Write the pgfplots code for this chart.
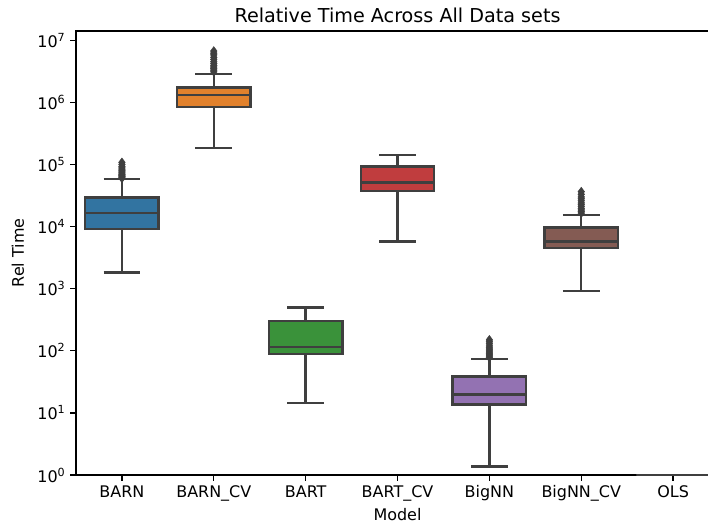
\documentclass[border=0pt]{standalone}
\usepackage{fontspec}
\setmainfont{DejaVu Sans}
\usepackage{pgfplots}
\pgfplotsset{compat=1.18}
\definecolor{cblue}{HTML}{3274A1}
\definecolor{corange}{HTML}{E1812C}
\definecolor{cgreen}{HTML}{3A923A}
\definecolor{cred}{HTML}{C03D3E}
\definecolor{cpurple}{HTML}{9372B2}
\definecolor{cbrown}{HTML}{845B53}
\definecolor{cpink}{HTML}{D684BD}
\definecolor{lc}{HTML}{3F3F3F}
\pgfplotsset{
  wh/.style={draw=lc, line width=1.75pt, solid, no marks, forget plot},
  bxs/.style={draw=lc, fill=#1, line width=1.75pt, solid, no marks, line join=miter, forget plot},
  out/.style={only marks, mark=diamond*, mark size=3.2pt,
    mark options={solid, fill=lc, draw=lc, line width=0.3pt}, forget plot},
}
\begin{document}
\begin{tikzpicture}
\begin{axis}[
  at={(0,0)}, anchor=south west,
  scale only axis, width=463pt, height=319.7pt,
  ymode=log, log basis y=10, ymin=1, ymax=1.41e7,
  ytick={1,10,100,1000,10000,100000,1000000,10000000},
  yticklabels={10\textsuperscript{0},10\textsuperscript{1},10\textsuperscript{2},10\textsuperscript{3},10\textsuperscript{4},10\textsuperscript{5},10\textsuperscript{6},10\textsuperscript{7}},
  xmin=-0.5, xmax=6.5,
  xtick={0,...,6},
  xticklabels={BARN,BARN\_CV,BART,BART\_CV,BigNN,BigNN\_CV,OLS},
  tick align=outside, tick pos=left,
  major tick length=4pt, minor tick length=2.3pt,
  every tick/.style={black, line width=0.9pt},
  axis line style={line width=0.9pt},
  title={Relative Time Across All Data sets},
  every axis title/.style={at={(axis description cs:0.5,1)}, anchor=center, yshift=11.5pt, font=\fontsize{13.8}{16}\selectfont},
  xlabel={Model}, ylabel={Rel Time},
  every axis x label/.style={at={(axis description cs:0.5,0)}, anchor=center, yshift=-28.8pt},
  every axis y label/.style={at={(axis description cs:0,0.5)}, anchor=center, xshift=-41.8pt, rotate=90},
  tick label style={font=\fontsize{11.5}{13}\selectfont},
  label style={font=\fontsize{11.5}{13}\selectfont},
  clip=false,
]
% ---- BARN (0)
\addplot[wh] coordinates {(0,1810) (0,9050)};
\addplot[wh] coordinates {(0,29200) (0,57800)};
\addplot[wh] coordinates {(-0.2,1810) (0.2,1810)};
\addplot[wh] coordinates {(-0.2,57800) (0.2,57800)};
\addplot[bxs=cblue] coordinates {(-0.4,9050) (0.4,9050) (0.4,29200) (-0.4,29200)} -- cycle;
\addplot[wh] coordinates {(-0.4,16700) (0.4,16700)};
\addplot[out] coordinates {(0,60000) (0,62000) (0,64000) (0,66000) (0,68000) (0,70000) (0,73000) (0,76000) (0,80000) (0,84000) (0,88000) (0,93000) (0,100000) (0,108000)};
% ---- BARN_CV (1)
\addplot[wh] coordinates {(1,184000) (1,834000)};
\addplot[wh] coordinates {(1,1725000) (1,2870000)};
\addplot[wh] coordinates {(0.8,184000) (1.2,184000)};
\addplot[wh] coordinates {(0.8,2870000) (1.2,2870000)};
\addplot[bxs=corange] coordinates {(0.6,834000) (1.4,834000) (1.4,1725000) (0.6,1725000)} -- cycle;
\addplot[wh] coordinates {(0.6,1300000) (1.4,1300000)};
\addplot[out] coordinates {(1,3100000) (1,3300000) (1,3500000) (1,3700000) (1,3900000) (1,4200000) (1,4500000) (1,4900000) (1,5300000) (1,5800000) (1,6200000) (1,6700000)};
% ---- BART (2)
\addplot[wh] coordinates {(2,14.3) (2,87.9)};
\addplot[wh] coordinates {(2,299) (2,494)};
\addplot[wh] coordinates {(1.8,14.3) (2.2,14.3)};
\addplot[wh] coordinates {(1.8,494) (2.2,494)};
\addplot[bxs=cgreen] coordinates {(1.6,87.9) (2.4,87.9) (2.4,299) (1.6,299)} -- cycle;
\addplot[wh] coordinates {(1.6,116) (2.4,116)};
% ---- BART_CV (3)
\addplot[wh] coordinates {(3,5710) (3,37400)};
\addplot[wh] coordinates {(3,92200) (3,141000)};
\addplot[wh] coordinates {(2.8,5710) (3.2,5710)};
\addplot[wh] coordinates {(2.8,141000) (3.2,141000)};
\addplot[bxs=cred] coordinates {(2.6,37400) (3.4,37400) (3.4,92200) (2.6,92200)} -- cycle;
\addplot[wh] coordinates {(2.6,50900) (3.4,50900)};
% ---- BigNN (4)
\addplot[wh] coordinates {(4,1.36) (4,13.7)};
\addplot[wh] coordinates {(4,38.3) (4,73)};
\addplot[wh] coordinates {(3.8,1.36) (4.2,1.36)};
\addplot[wh] coordinates {(3.8,73) (4.2,73)};
\addplot[bxs=cpurple] coordinates {(3.6,13.7) (4.4,13.7) (4.4,38.3) (3.6,38.3)} -- cycle;
\addplot[wh] coordinates {(3.6,19.9) (4.4,19.9)};
\addplot[out] coordinates {(4,78) (4,82) (4,86) (4,90) (4,95) (4,100) (4,106) (4,112) (4,120) (4,130) (4,140) (4,150)};
% ---- BigNN_CV (5)
\addplot[wh] coordinates {(5,908) (5,4520)};
\addplot[wh] coordinates {(5,9600) (5,15400)};
\addplot[wh] coordinates {(4.8,908) (5.2,908)};
\addplot[wh] coordinates {(4.8,15400) (5.2,15400)};
\addplot[bxs=cbrown] coordinates {(4.6,4520) (5.4,4520) (5.4,9600) (4.6,9600)} -- cycle;
\addplot[wh] coordinates {(4.6,5710) (5.4,5710)};
\addplot[out] coordinates {(5,16500) (5,17500) (5,18500) (5,19500) (5,21000) (5,22500) (5,24000) (5,26000) (5,28000) (5,30000) (5,33000) (5,36500)};
% ---- OLS (6)
\addplot[bxs=cpink] coordinates {(5.6,1) (6.4,1) (6.4,1) (5.6,1)} -- cycle;
\end{axis}
\pgfresetboundingbox
\useasboundingbox (-54.72pt,-35.28pt) rectangle (455.04pt,342pt);
\end{tikzpicture}
\end{document}
